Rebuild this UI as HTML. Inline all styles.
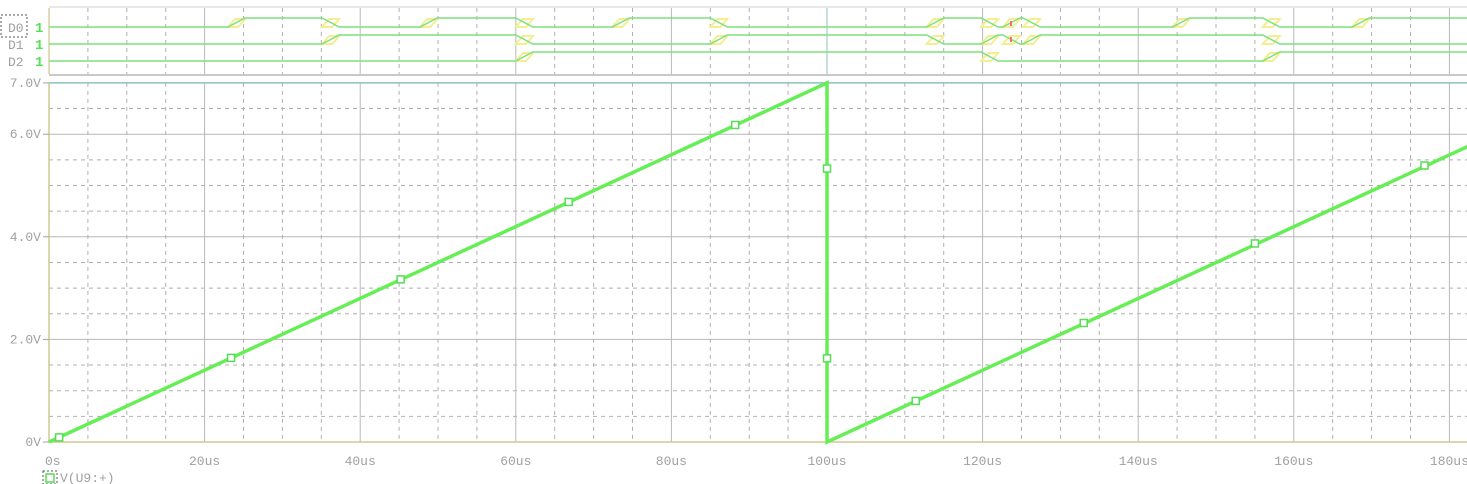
<!DOCTYPE html>
<html><head><meta charset="utf-8"><style>
html,body{margin:0;padding:0;background:#fff;}
svg{display:block;font-family:"Liberation Mono",monospace;}
</style></head><body>
<svg id="c" width="1467" height="484"></svg>
<script>
const xTicks=[0,20,40,60,80,100,120,140,160,180];
const xTickLabels=["0s","20us","40us","60us","80us","100us","120us","140us","160us","180us"];
const yTicks=[0,2,4,6,7];
const yTickLabels=["0V","2.0V","4.0V","6.0V","7.0V"];
const rampTimes=[0,100,100,182.5];
const rampValues=[0,7,0,5.77];
const markerTimes=[1.3,23.4,45.2,66.8,88.2,100,100,111.4,133,155,176.8];
const markerValues=[0.09,1.64,3.17,4.68,6.18,5.33,1.63,0.8,2.32,3.87,5.39];
const digNames=["D0","D1","D2"];
const d0Edges=[23,35.1,47.7,60,72.4,85,112.8,119.8,122.6,125.2,144.4,156,167.5];
const d1Edges=[35.1,60,85,112.8,119.8,122.6,125.2,156];
const d2Edges=[60,119.8,156];
const digEdges=[d0Edges,d1Edges,d2Edges];

const svg=document.getElementById('c');
const NS='http://www.w3.org/2000/svg';
const X0=49,PXU=7.78,Y0=442,PXV=51.3;
const xs=t=>X0+t*PXU, ys=v=>Y0-v*PXV;
function mk(tag,at,parent){const e=document.createElementNS(NS,tag);for(const k in at)e.setAttribute(k,at[k]);(parent||svg).appendChild(e);return e;}
const R=1467;
const dp=mk('g',{});


mk('line',{x1:X0,y1:7,x2:R,y2:7,stroke:'#d0d0d0','stroke-width':1},dp);
mk('line',{x1:X0,y1:75,x2:R,y2:75,stroke:'#c8c8c8','stroke-width':2},dp);
for(let t=5;t<=185;t+=5){const x=xs(t);const solid=t%20===0;
 mk('line',{x1:x,y1:8,x2:x,y2:74,stroke:t===100?'#8cc0c0':(solid?'#b8b8b8':'#b0b0b0'),'stroke-width':1,'stroke-dasharray':solid?'':'4,4'},dp);}
mk('line',{x1:X0,y1:8,x2:X0,y2:74,stroke:'#d8d0a0','stroke-width':1.5},dp);
const lowY=[27,44,61],hiY=[18,35,52],TW=2.2;
digNames.forEach((n,i)=>{
 const lb=mk('text',{x:8,y:lowY[i]+5,fill:'#a0a0a0','font-size':13},dp);lb.textContent=n;
 
 
 const v=mk('text',{x:35,y:lowY[i]+5,fill:'#55e055','font-size':14,'font-weight':'bold'},dp);v.textContent='1';
 
 
 let state=0,d='M'+X0+' '+lowY[i];const tr=[];
 digEdges[i].forEach(t=>{const a=xs(t),b=xs(t+TW);const y1=state?hiY[i]:lowY[i];state=1-state;const y2=state?hiY[i]:lowY[i];
  d+=' L'+a+' '+y1+' L'+b+' '+y2;tr.push([a,b]);});
 d+=' L'+R+' '+(state?hiY[i]:lowY[i]);
 tr.forEach(([a,b])=>{const m=(hiY[i]+lowY[i])/2;
  const p=mk('path',{d:`M${a} ${lowY[i]} L${a+4} ${m} L${a+7} ${hiY[i]+1} L${b} ${hiY[i]+1} L${b-3} ${m} L${b-7} ${lowY[i]} Z`,fill:'none',stroke:'#f4ee90','stroke-width':2},dp);
  
  });
 const w=mk('path',{d:d,fill:'none',stroke:'#7ee07e','stroke-width':1.5},dp);
 
 
 if(i<2){mk('rect',{x:1010,y:(i===0?21:37),width:2,height:5,fill:'#f07070'},dp);}
});
mk('rect',{x:1,y:15,width:26,height:22,fill:'none',stroke:'#555','stroke-dasharray':'2,2'},dp);
const gg=mk('g',{});


for(let v=0.5;v<7;v+=0.5){const solid=Math.abs(v%2)<1e-6;
 mk('line',{x1:X0,y1:ys(v),x2:R,y2:ys(v),stroke:solid?'#b8b8b8':'#b0b0b0','stroke-dasharray':solid?'':'4,4'},gg);}
for(let t=5;t<=185;t+=5){const solid=t%20===0;
 mk('line',{x1:xs(t),y1:ys(7),x2:xs(t),y2:Y0,stroke:solid?'#b8b8b8':'#b0b0b0','stroke-dasharray':solid?'':'4,4'},gg);}
mk('line',{x1:X0,y1:ys(7),x2:R,y2:ys(7),stroke:'#8cc0c0','stroke-width':1.5},gg);
mk('line',{x1:X0,y1:Y0,x2:R,y2:Y0,stroke:'#d0c890','stroke-width':1.5},gg);
mk('line',{x1:X0,y1:ys(7),x2:X0,y2:Y0,stroke:'#d0c890','stroke-width':1.5},gg);
yTicks.forEach((v,i)=>{mk('line',{x1:X0-6,y1:ys(v),x2:X0,y2:ys(v),stroke:'#a0a0a0'});
 const t=mk('text',{x:41,y:ys(v)+4,fill:'#a0a0a0','font-size':13,'text-anchor':'end'});t.textContent=yTickLabels[i];
 
 });
xTicks.forEach((v,i)=>{const t=mk('text',{x:xs(v),y:465,fill:'#a0a0a0','font-size':13,'text-anchor':i===0?'start':'middle'});
 if(i===0)t.setAttribute('x',xs(v)-4);
 t.textContent=xTickLabels[i];
 
 });
let d='';rampTimes.forEach((t,i)=>{d+=(i?' L':'M')+xs(t)+' '+ys(rampValues[i]);});
const rp=mk('path',{d:d,fill:'none',stroke:'#66ee55','stroke-width':3.5});


markerTimes.forEach((t,i)=>{const m=mk('rect',{x:xs(t)-3.5,y:ys(markerValues[i])-3.5,width:7,height:7,fill:'#fff',stroke:'#55dd55','stroke-width':1.5});
 
 });
const lg=mk('g',{});


mk('rect',{x:43,y:471,width:14,height:13,fill:'none',stroke:'#555','stroke-dasharray':'2,2'},lg);
mk('rect',{x:46,y:474,width:8,height:8,fill:'none',stroke:'#55dd55','stroke-width':1.5},lg);
const lt=mk('text',{x:60,y:482,fill:'#a0a0a0','font-size':13},lg);lt.textContent='V(U9:+)';
</script>
</body></html>
